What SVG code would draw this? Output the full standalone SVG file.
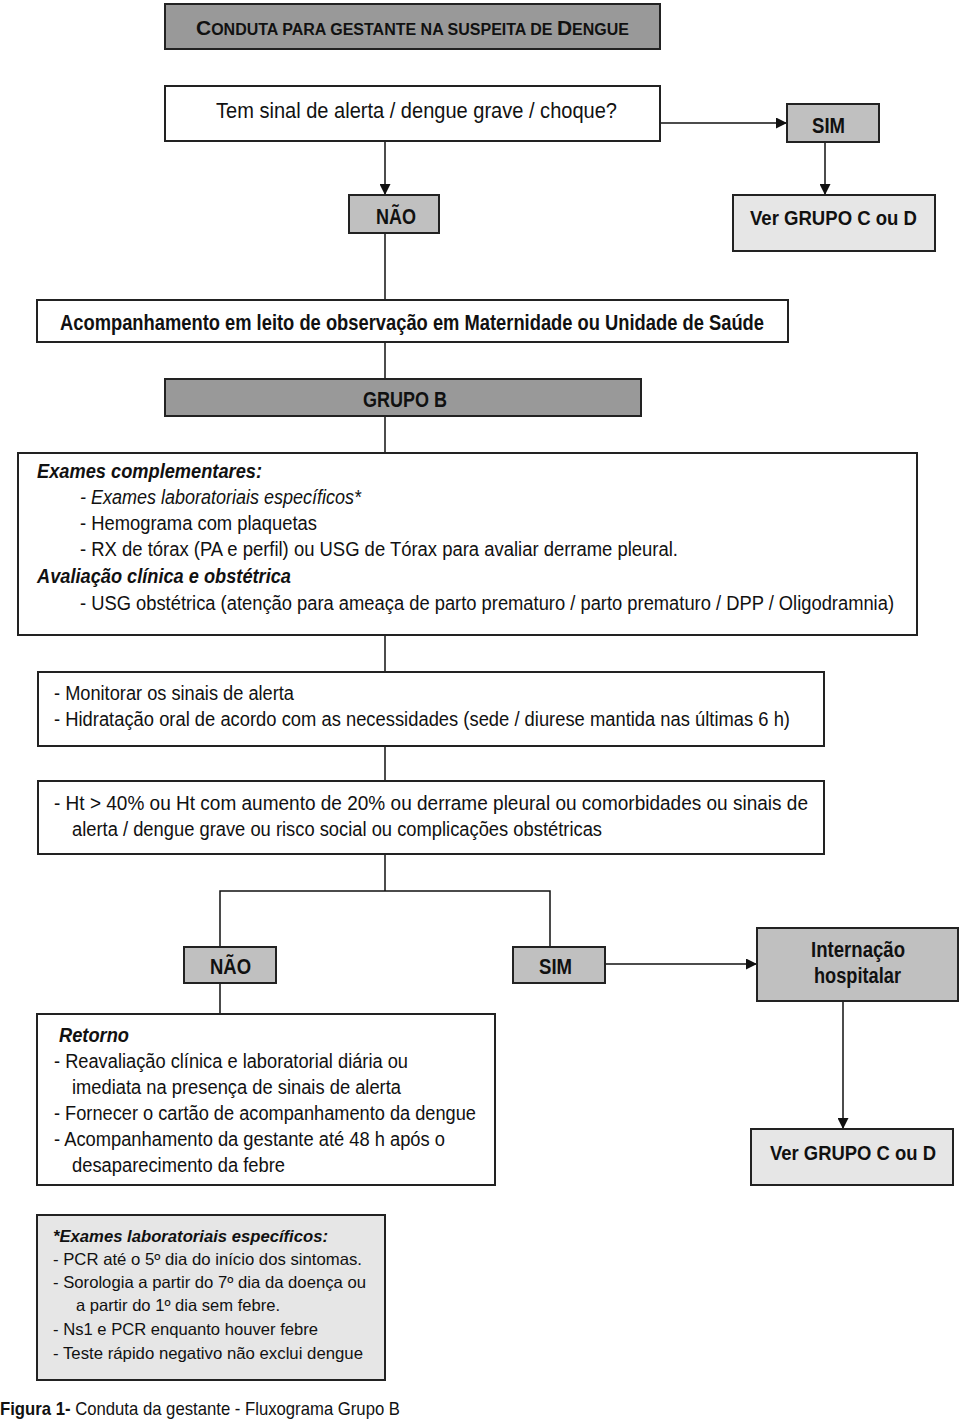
<svg xmlns="http://www.w3.org/2000/svg" width="960" height="1421" viewBox="0 0 960 1421">
<style>
.box{stroke:#222;stroke-width:2}
.w{fill:#fff}
.g1{fill:#999}
.g2{fill:#c0c0c0}
.g3{fill:#e6e6e6}
text{font-family:"Liberation Sans",Arial,sans-serif;fill:#111}
.t{font-size:19.5px}
.l{font-size:21.5px;font-weight:bold}
.v{font-size:20px;font-weight:bold}
.q{font-size:22.5px}
.bi{font-weight:bold;font-style:italic}
.i{font-style:italic}
.f{font-size:16.5px}
.c{fill:none;stroke:#111;stroke-width:1.5}
</style>
<defs>
<marker id="arr" markerUnits="userSpaceOnUse" markerWidth="11" markerHeight="11" refX="11" refY="5.5" orient="auto">
<path d="M0,0 L11,5.5 L0,11 z" fill="#111"/>
</marker>
</defs>
<rect width="960" height="1421" fill="#fff"/>
<g id="connectors">
<line class="c" x1="385" y1="141" x2="385" y2="195" marker-end="url(#arr)"/>
<line class="c" x1="660" y1="123" x2="787" y2="123" marker-end="url(#arr)"/>
<line class="c" x1="825" y1="142" x2="825" y2="195" marker-end="url(#arr)"/>
<line class="c" x1="385" y1="233" x2="385" y2="300"/>
<line class="c" x1="385" y1="342" x2="385" y2="379"/>
<line class="c" x1="385" y1="416" x2="385" y2="453"/>
<line class="c" x1="385" y1="635" x2="385" y2="672"/>
<line class="c" x1="385" y1="746" x2="385" y2="781"/>
<line class="c" x1="385" y1="854" x2="385" y2="891"/>
<polyline class="c" points="220,947 220,891 550,891 550,947"/>
<line class="c" x1="220" y1="983" x2="220" y2="1014"/>
<line class="c" x1="605" y1="964" x2="757" y2="964" marker-end="url(#arr)"/>
<line class="c" x1="843" y1="1001" x2="843" y2="1129" marker-end="url(#arr)"/>
</g>
<g id="title">
<rect class="box g1" x="165" y="4" width="495" height="45"/>
<text x="196" y="35" font-weight="bold" font-size="16" textLength="433" lengthAdjust="spacingAndGlyphs"><tspan font-size="21">C</tspan>ONDUTA PARA GESTANTE NA SUSPEITA DE <tspan font-size="21">D</tspan>ENGUE</text>
</g>
<g id="question">
<rect class="box w" x="165" y="86" width="495" height="55"/>
<text class="q" x="216" y="118" textLength="401" lengthAdjust="spacingAndGlyphs">Tem sinal de alerta / dengue grave / choque?</text>
</g>
<g id="sim1">
<rect class="box g2" x="787" y="104" width="92" height="38"/>
<text class="l" x="812" y="133" textLength="33" lengthAdjust="spacingAndGlyphs">SIM</text>
</g>
<g id="nao1">
<rect class="box g2" x="349" y="195" width="90" height="38"/>
<text class="l" x="376" y="224" textLength="40" lengthAdjust="spacingAndGlyphs">NÃO</text>
</g>
<g id="ver1">
<rect class="box g3" x="733" y="195" width="202" height="56"/>
<text class="v" x="750" y="225" textLength="167" lengthAdjust="spacingAndGlyphs">Ver GRUPO C ou D</text>
</g>
<g id="acompanhamento">
<rect class="box w" x="37" y="300" width="751" height="42"/>
<text class="l" x="60" y="330" textLength="704" lengthAdjust="spacingAndGlyphs">Acompanhamento em leito de observação em Maternidade ou Unidade de Saúde</text>
</g>
<g id="grupob">
<rect class="box g1" x="165" y="379" width="476" height="37"/>
<text class="l" x="363" y="407" textLength="84" lengthAdjust="spacingAndGlyphs">GRUPO B</text>
</g>
<g id="exames">
<rect class="box w" x="18" y="453" width="899" height="182"/>
<text class="t bi" x="37" y="478" textLength="225" lengthAdjust="spacingAndGlyphs">Exames complementares:</text>
<text class="t i" x="80" y="504" textLength="281" lengthAdjust="spacingAndGlyphs">- Exames laboratoriais específicos*</text>
<text class="t" x="80" y="530" textLength="237" lengthAdjust="spacingAndGlyphs">- Hemograma com plaquetas</text>
<text class="t" x="80" y="556" textLength="598" lengthAdjust="spacingAndGlyphs">- RX de tórax (PA e perfil) ou USG de Tórax para avaliar derrame pleural.</text>
<text class="t bi" x="37" y="583" textLength="254" lengthAdjust="spacingAndGlyphs">Avaliação clínica e obstétrica</text>
<text class="t" x="80" y="610" textLength="814" lengthAdjust="spacingAndGlyphs">- USG obstétrica (atenção para ameaça de parto prematuro / parto prematuro / DPP / Oligodramnia)</text>
</g>
<g id="monitorar">
<rect class="box w" x="38" y="672" width="786" height="74"/>
<text class="t" x="54" y="700" textLength="240" lengthAdjust="spacingAndGlyphs">- Monitorar os sinais de alerta</text>
<text class="t" x="54" y="726" textLength="736" lengthAdjust="spacingAndGlyphs">- Hidratação oral de acordo com as necessidades (sede / diurese mantida nas últimas 6 h)</text>
</g>
<g id="ht">
<rect class="box w" x="38" y="781" width="786" height="73"/>
<text class="t" x="54" y="810" textLength="754" lengthAdjust="spacingAndGlyphs">- Ht &gt; 40% ou Ht com aumento de 20% ou derrame pleural ou comorbidades ou sinais de</text>
<text class="t" x="72" y="836" textLength="530" lengthAdjust="spacingAndGlyphs">alerta / dengue grave ou risco social ou complicações obstétricas</text>
</g>
<g id="nao2">
<rect class="box g2" x="184" y="947" width="92" height="36"/>
<text class="l" x="210" y="974" textLength="41" lengthAdjust="spacingAndGlyphs">NÃO</text>
</g>
<g id="sim2">
<rect class="box g2" x="513" y="947" width="92" height="36"/>
<text class="l" x="539" y="974" textLength="33" lengthAdjust="spacingAndGlyphs">SIM</text>
</g>
<g id="internacao">
<rect class="box g2" x="757" y="928" width="201" height="73"/>
<text class="l" x="811" y="957" textLength="94" lengthAdjust="spacingAndGlyphs">Internação</text>
<text class="l" x="814" y="983" textLength="87" lengthAdjust="spacingAndGlyphs">hospitalar</text>
</g>
<g id="ver2">
<rect class="box g3" x="751" y="1129" width="202" height="56"/>
<text class="v" x="770" y="1160" textLength="166" lengthAdjust="spacingAndGlyphs">Ver GRUPO C ou D</text>
</g>
<g id="retorno">
<rect class="box w" x="37" y="1014" width="458" height="171"/>
<text class="t bi" x="59" y="1042" textLength="70" lengthAdjust="spacingAndGlyphs">Retorno</text>
<text class="t" x="54" y="1068" textLength="354" lengthAdjust="spacingAndGlyphs">- Reavaliação clínica e laboratorial diária ou</text>
<text class="t" x="72" y="1094" textLength="329" lengthAdjust="spacingAndGlyphs">imediata na presença de sinais de alerta</text>
<text class="t" x="54" y="1120" textLength="422" lengthAdjust="spacingAndGlyphs">- Fornecer o cartão de acompanhamento da dengue</text>
<text class="t" x="54" y="1146" textLength="391" lengthAdjust="spacingAndGlyphs">- Acompanhamento da gestante até 48 h após o</text>
<text class="t" x="72" y="1172" textLength="213" lengthAdjust="spacingAndGlyphs">desaparecimento da febre</text>
</g>
<g id="footnote">
<rect class="box g3" x="37" y="1215" width="348" height="165"/>
<text class="f bi" x="53" y="1242" textLength="275" lengthAdjust="spacingAndGlyphs">*Exames laboratoriais específicos:</text>
<text class="f" x="53" y="1265" textLength="309" lengthAdjust="spacingAndGlyphs">- PCR até o 5º dia do início dos sintomas.</text>
<text class="f" x="53" y="1288" textLength="313" lengthAdjust="spacingAndGlyphs">- Sorologia a partir do 7º dia da doença ou</text>
<text class="f" x="76" y="1311" textLength="204" lengthAdjust="spacingAndGlyphs">a partir do 1º dia sem febre.</text>
<text class="f" x="53" y="1335" textLength="265" lengthAdjust="spacingAndGlyphs">- Ns1 e PCR enquanto houver febre</text>
<text class="f" x="53" y="1359" textLength="310" lengthAdjust="spacingAndGlyphs">- Teste rápido negativo não exclui dengue</text>
</g>
<g id="caption">
<text x="0" y="1415" font-size="18.5" textLength="400" lengthAdjust="spacingAndGlyphs"><tspan font-weight="bold">Figura 1-</tspan> Conduta da gestante - Fluxograma Grupo B</text>
</g>
</svg>
